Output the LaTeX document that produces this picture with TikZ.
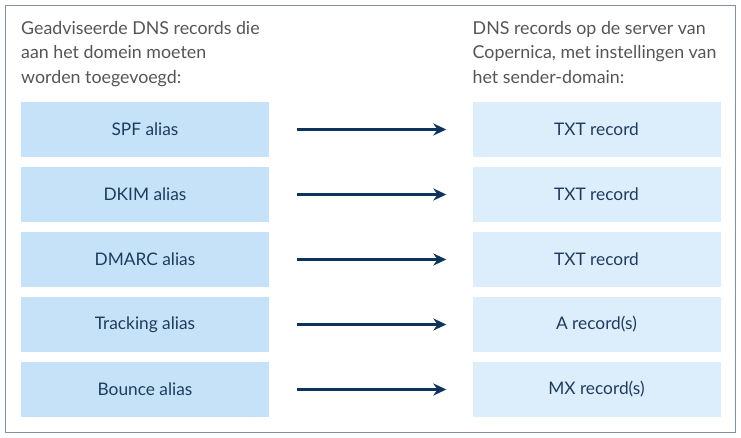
\documentclass[tikz,border=0pt]{standalone}
\usepackage{fontspec}
\setmainfont{Lato}
\usepackage{tikz}
\usetikzlibrary{arrows.meta,positioning}

\definecolor{framegray}{HTML}{7F90A4}
\definecolor{aliasblue}{HTML}{C6E2F8}
\definecolor{recordblue}{HTML}{DCEDFC}
\definecolor{textnavy}{HTML}{1F3C5E}
\definecolor{arrownavy}{HTML}{0D325C}
\definecolor{headgray}{HTML}{555555}

\begin{document}
\begin{tikzpicture}[x=1pt,y=-1pt,
		alias/.style={fill=aliasblue,minimum width=248pt,minimum height=55pt,inner sep=0pt,text=textnavy,font=\fontsize{17.3}{20}\selectfont},
		record/.style={alias,fill=recordblue},
		header/.style={anchor=north west,inner sep=0pt,align=left,text=headgray,font=\fontsize{17.8}{24.5}\selectfont},
		link/.style={-{Stealth[length=13pt,width=12pt]},line width=3pt,draw=arrownavy,shorten <=28pt,shorten >=26pt}]
			\useasboundingbox (0,0) rectangle (741,438);
			\draw [framegray,line width=1pt] (5.5,5.5) rectangle (735.5,432.5);

			\node [header] (lefthead) at (21,21) {Geadviseerde DNS records die\\aan het domein moeten\\worden toegevoegd:};
			\node [header] (righthead) at (472.5,21) {DNS records op de server van\\Copernica, met instellingen van\\het sender-domain:};

			\node [alias] (spf) at (145,129.5) {SPF alias};
			\node [record] (spftxt) at (596.5,129.5) {TXT record};
			\node [alias] (dkim) at (145,194.5) {DKIM alias};
			\node [record] (dkimtxt) at (596.5,194.5) {TXT record};
			\node [alias] (dmarc) at (145,259.5) {DMARC alias};
			\node [record] (dmarctxt) at (596.5,259.5) {TXT record};
			\node [alias] (tracking) at (145,324.5) {Tracking alias};
			\node [record] (trackinga) at (596.5,324.5) {A record(s)};
			\node [alias] (bounce) at (145,389.5) {Bounce alias};
			\node [record] (bouncemx) at (596.5,389.5) {MX record(s)};

			\draw [link] (spf) to (spftxt);
			\draw [link] (dkim) to (dkimtxt);
			\draw [link] (dmarc) to (dmarctxt);
			\draw [link] (tracking) to (trackinga);
			\draw [link] (bounce) to (bouncemx);
	\end{tikzpicture}
\end{document}
